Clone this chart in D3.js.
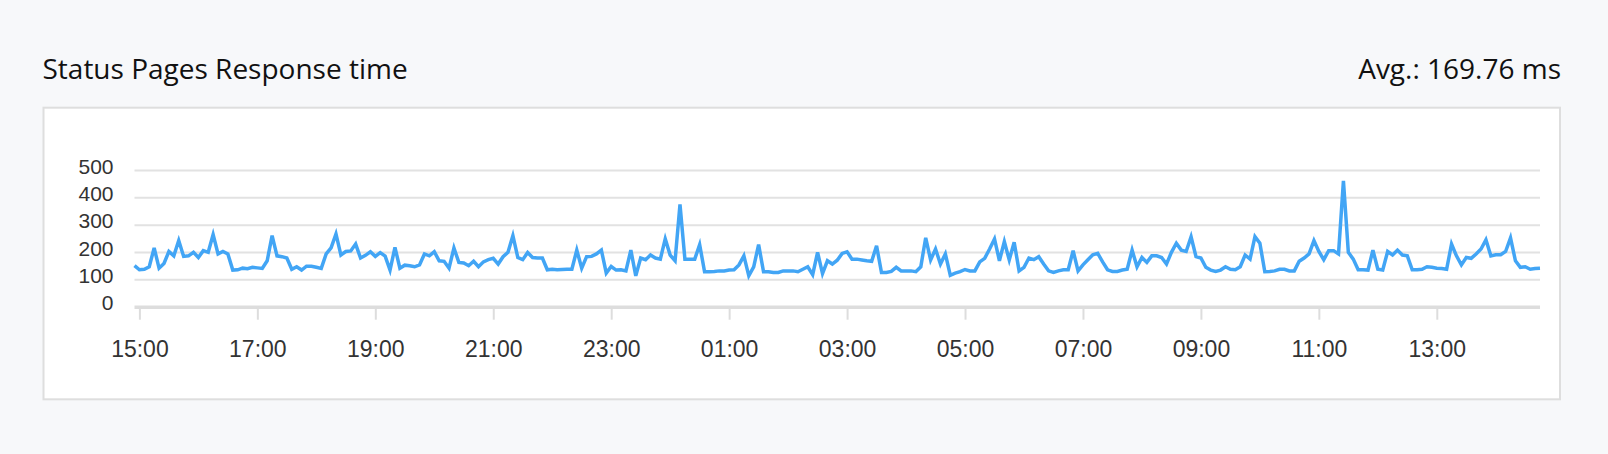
<!DOCTYPE html>
<html>
<head>
<meta charset="utf-8">
<script src="https://cdn.jsdelivr.net/npm/d3@7"></script>
<style>
  html, body { margin: 0; padding: 0; background: #f7f8fa; }
  svg { display: block; }
</style>
</head>
<body>
<div id="chart"></div>
<script>
// Response time samples, one every 5 minutes, starting 14:55
const startTime = '2024-03-11 14:55';
const stepMinutes = 5;
const responseTimes = [
  150, 135, 137, 146, 215, 141, 158, 202, 186, 242, 184, 186, 199, 180, 205, 199, 264, 193, 202, 193,
  134, 135, 141, 139, 144, 142, 140, 168, 260, 186, 183, 178, 137, 146, 134, 148,
  148, 144, 140, 193, 215, 266, 189, 202, 204, 229, 178, 188, 201, 184, 198, 185, 134, 217, 141, 152,
  150, 146, 153, 193, 186, 201, 168, 166, 141, 215, 162, 160, 150, 166, 146, 164,
  172, 177, 156, 183, 199, 260, 180, 172, 198, 180, 178, 178, 135, 137, 135, 136, 137, 137, 207, 141,
  183, 184, 193, 207, 123, 147, 134, 135, 131, 207, 113, 178, 172, 189, 178, 174,
  248, 189, 168, 374, 174, 174, 174, 227, 128, 128, 129, 131, 131, 134, 135, 153, 186, 113, 146, 227,
  128, 128, 125, 125, 131, 131, 131, 128, 137, 146, 117, 199, 121, 168, 156, 170,
  195, 201, 174, 174, 171, 168, 166, 223, 125, 125, 129, 144, 131, 131, 131, 128, 146, 252, 171, 211,
  156, 193, 115, 123, 128, 136, 131, 131, 164, 177, 211, 248, 168, 238, 171, 236,
  131, 144, 178, 172, 183, 156, 131, 125, 131, 135, 135, 205, 131, 153, 172, 190, 195, 164, 135, 129,
  129, 134, 137, 207, 146, 180, 162, 186, 186, 180, 156, 199, 232, 207, 202, 256,
  183, 178, 144, 134, 129, 134, 146, 137, 135, 146, 189, 174, 256, 232, 128, 129, 131, 137, 137, 131,
  131, 166, 178, 193, 242, 202, 172, 205, 205, 193, 460, 199, 174, 135, 135, 134,
  207, 137, 134, 202, 189, 207, 189, 186, 135, 135, 137, 146, 144, 141, 140, 137, 229, 186, 153, 180,
  177, 193, 211, 245, 186, 190, 190, 202, 252, 168, 144, 146, 137, 140, 141
];
const yTicks = [0, 100, 200, 300, 400, 500];
const xTickLabels = ['15:00', '17:00', '19:00', '21:00', '23:00', '01:00', '03:00', '05:00', '07:00', '09:00', '11:00', '13:00'];
const chartTitle = 'Status Pages Response time';
const avgLabel = 'Avg.: 169.76 ms';

const width = 1608;
const height = 454;
const plot = { left: 134.5, right: 1540, top: 170, bottom: 306.7 };

const parseTime = d3.timeParse('%Y-%m-%d %H:%M');
const t0 = parseTime(startTime);
const data = responseTimes.map((v, i) => ({
  time: d3.timeMinute.offset(t0, i * stepMinutes),
  value: v,
}));

// tick labels -> dates inside the shown day span
const xTickValues = xTickLabels.map(label => {
  const [h, m] = label.split(':').map(Number);
  const d = new Date(t0);
  d.setHours(h, m, 0, 0);
  if (d < t0) d.setDate(d.getDate() + 1);
  return d;
});

const svg = d3.select('#chart').append('svg')
  .attr('width', width)
  .attr('height', height);

svg.append('rect')
  .attr('width', width)
  .attr('height', height)
  .attr('fill', '#f7f8fa');

svg.append('text')
  .attr('x', 42.5)
  .attr('y', 79)
  .style('font-family', '"Open Sans", "Noto Sans", sans-serif')
  .style('font-size', '28px')
  .attr('fill', '#111')
  .text(chartTitle);

svg.append('text')
  .attr('x', 1561)
  .attr('y', 79)
  .attr('text-anchor', 'end')
  .style('font-family', '"Open Sans", "Noto Sans", sans-serif')
  .style('font-size', '28px')
  .attr('fill', '#111')
  .text(avgLabel);

// panel
svg.append('rect')
  .attr('x', 43.5)
  .attr('y', 107.7)
  .attr('width', 1516.5)
  .attr('height', 291.6)
  .attr('fill', '#fff')
  .attr('stroke', '#dedede')
  .attr('stroke-width', 2);

const x = d3.scaleTime()
  .domain(d3.extent(data, d => d.time))
  .range([plot.left, plot.right]);

const y = d3.scaleLinear()
  .domain([0, 500])
  .range([plot.bottom, plot.top]);

// horizontal grid + y labels
const yAxis = d3.axisLeft(y)
  .tickValues(yTicks)
  .tickSize(-(plot.right - plot.left))
  .tickPadding(21);

const gy = svg.append('g')
  .attr('transform', `translate(${plot.left},0)`)
  .call(yAxis);
gy.select('.domain').remove();
gy.selectAll('.tick line')
  .attr('stroke', '#e2e2e2')
  .attr('stroke-width', 2);
gy.selectAll('.tick text')
  .attr('dy', '0.15em')
  .attr('fill', '#333')
  .style('font-family', '"Liberation Sans", Arial, sans-serif')
  .style('font-size', '21px');
gy.selectAll('.tick').filter(d => d === 0).select('line')
  .attr('stroke', '#dddddd')
  .attr('stroke-width', 3.5);

// x axis
const xAxis = d3.axisBottom(x)
  .tickValues(xTickValues)
  .tickFormat(d3.timeFormat('%H:%M'))
  .tickSize(13)
  .tickPadding(21);

const gx = svg.append('g')
  .attr('transform', `translate(0,${plot.bottom})`)
  .call(xAxis);
gx.select('.domain').remove();
gx.selectAll('.tick line')
  .attr('stroke', '#dddddd')
  .attr('stroke-width', 2);
gx.selectAll('.tick text')
  .attr('fill', '#333')
  .style('font-family', '"Liberation Sans", Arial, sans-serif')
  .style('font-size', '23px');

// response time line
const line = d3.line()
  .x(d => x(d.time))
  .y(d => y(d.value));

svg.append('path')
  .datum(data)
  .attr('fill', 'none')
  .attr('stroke', '#42a5f5')
  .attr('stroke-width', 3.5)
  .attr('stroke-linejoin', 'miter')
  .attr('d', line);
</script>
</body>
</html>
